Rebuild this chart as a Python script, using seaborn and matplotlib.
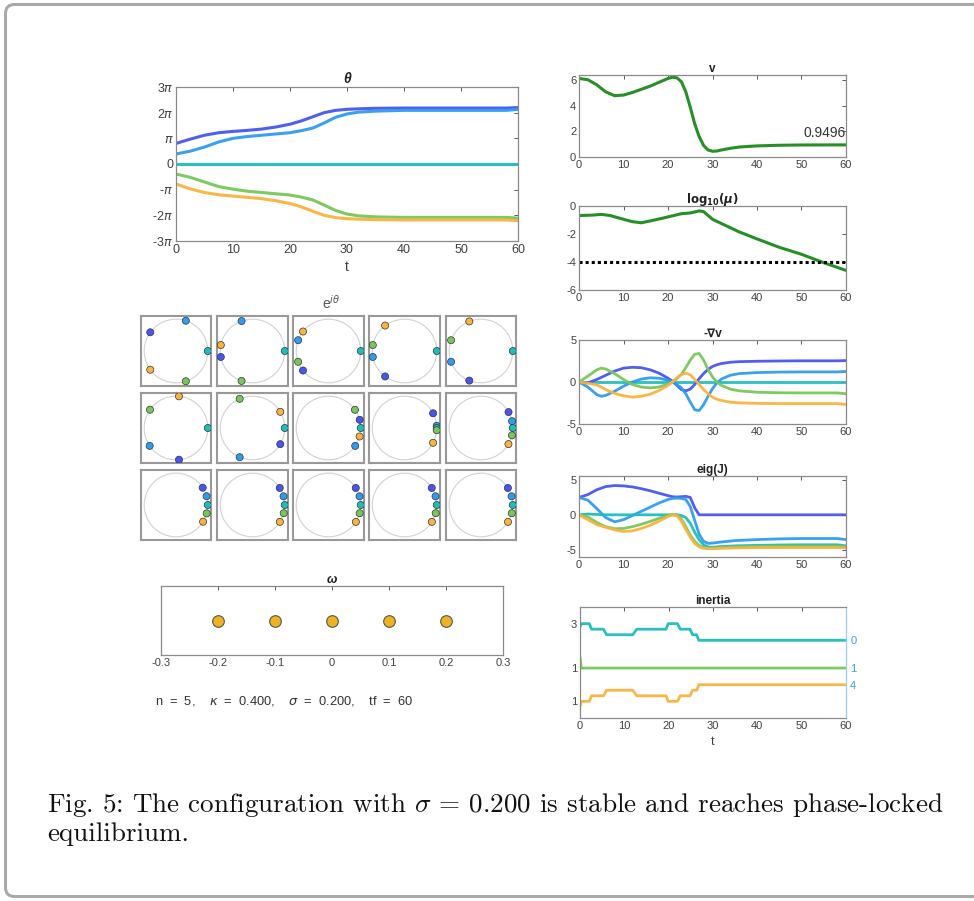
import numpy as np
import pandas as pd
import matplotlib
matplotlib.use("Agg")
import matplotlib.pyplot as plt
import seaborn as sns
from matplotlib.patches import Circle, FancyBboxPatch

sns.set_theme(style="white")
plt.rcParams["font.family"] = ["Liberation Sans", "DejaVu Sans"]
plt.rcParams["axes.unicode_minus"] = False

W, H = 974, 901
COLORS = ["#4755f2", "#2e9cf0", "#1cbdbd", "#76c85a", "#fbb23e"]

# ---- theta(t), in units of pi ----
t_theta = [0, 2.5, 5, 7.5, 10, 12.5, 15, 17.5, 20, 22, 24, 26, 28, 30, 32, 35, 40, 45, 50, 55, 58, 60]
theta_dark = [0.80, 0.97, 1.12, 1.22, 1.27, 1.31, 1.36, 1.44, 1.55, 1.68, 1.84, 2.0, 2.09, 2.13, 2.15, 2.17, 2.18, 2.18, 2.18, 2.18, 2.18, 2.2]
theta_light = [0.39, 0.5, 0.66, 0.86, 1.0, 1.07, 1.12, 1.17, 1.22, 1.3, 1.4, 1.6, 1.82, 1.95, 2.02, 2.06, 2.09, 2.09, 2.09, 2.09, 2.09, 2.13]
theta_teal = [0] * len(t_theta)
theta_green = [-0.39, -0.52, -0.7, -0.88, -0.98, -1.06, -1.11, -1.16, -1.21, -1.29, -1.4, -1.6, -1.81, -1.95, -2.02, -2.06, -2.08, -2.08, -2.08, -2.08, -2.08, -2.11]
theta_orange = [-0.78, -0.97, -1.11, -1.2, -1.25, -1.3, -1.35, -1.43, -1.54, -1.67, -1.84, -2.0, -2.09, -2.13, -2.15, -2.17, -2.18, -2.18, -2.18, -2.18, -2.18, -2.21]

# ---- snapshot phases (units of pi), one row per panel: dark, light, teal, green, orange ----
snap_phase = [
    [0.80, 0.40, 0, -0.40, -0.80],
    [1.06, 0.61, 0, -0.61, -1.06],
    [1.21, 0.89, 0, -0.89, -1.21],
    [1.295, 1.06, 0, -1.06, -1.295],
    [1.38, 1.11, 0, -1.11, -1.38],
    [1.53, 1.19, 0, -1.195, -1.53],
    [1.83, 1.37, 0, -1.37, -1.83],
    [2.083, 1.81, 0, -1.806, -2.086],
    [2.153, 2.022, 0, -2.022, -2.154],
    [2.167, 2.069, 0, -2.074, -2.169],
    [2.183, 2.089, 0, -2.085, -2.176],
    [2.18, 2.088, 0, -2.083, -2.178],
    [2.18, 2.088, 0, -2.083, -2.178],
    [2.18, 2.088, 0, -2.083, -2.178],
    [2.18, 2.088, 0, -2.083, -2.178],
]

# ---- omega ----
omega = [-0.2, -0.1, 0.0, 0.1, 0.2]

# ---- v ----
t_v = [0, 2, 4, 6, 8, 10, 12, 14, 16, 18, 20, 21, 22, 23, 24, 25, 26, 27, 28, 29, 30, 31, 32, 34, 36, 40, 45, 50, 55, 60]
v_vals = [6.15, 6.05, 5.65, 5.1, 4.8, 4.85, 5.05, 5.3, 5.55, 5.85, 6.15, 6.25, 6.2, 5.9, 5.1, 3.9, 2.6, 1.6, 0.9, 0.55,
          0.45, 0.47, 0.55, 0.68, 0.78, 0.87, 0.92, 0.94, 0.945, 0.95]
v_final = "0.9496"

# ---- log10(mu) ----
t_mu = [0, 3, 5, 7, 10, 12, 14, 17, 20, 23, 25, 27, 28, 30, 33, 36, 40, 45, 50, 55, 60]
mu_vals = [-0.68, -0.65, -0.6, -0.68, -0.95, -1.12, -1.2, -1.0, -0.78, -0.55, -0.5, -0.35, -0.4, -0.95, -1.4, -1.85,
           -2.35, -2.95, -3.45, -4.05, -4.6]
mu_tol = -4

# ---- -grad v ----
t_grad = [0, 2, 4, 5, 6, 8, 10, 12, 14, 16, 18, 20, 21, 22, 23, 24, 25, 26, 27, 28, 29, 30, 31, 32, 34, 36, 40, 45, 50, 55, 58, 60]
grad_dark = [0, -0.1, 0.3, 0.55, 0.8, 1.3, 1.65, 1.75, 1.7, 1.45, 1.05, 0.45, 0.1, -0.4, -0.9, -1.05, -0.85, -0.3, 0.4, 1.0,
             1.5, 1.85, 2.05, 2.2, 2.35, 2.42, 2.47, 2.5, 2.52, 2.52, 2.52, 2.55]
grad_light = [0, -0.6, -1.5, -1.7, -1.6, -1.1, -0.5, 0.0, 0.35, 0.5, 0.45, 0.2, 0.0, -0.3, -0.7, -1.4, -2.4, -3.3, -3.4, -2.7,
              -1.7, -0.8, -0.1, 0.35, 0.8, 1.0, 1.12, 1.18, 1.2, 1.2, 1.2, 1.25]
grad_teal = [0] * len(t_grad)
grad_green = [0, 0.7, 1.45, 1.65, 1.55, 1.0, 0.3, -0.3, -0.6, -0.7, -0.6, -0.25, 0.0, 0.4, 0.9, 1.7, 2.6, 3.3, 3.4, 2.6,
              1.5, 0.6, 0.0, -0.4, -0.85, -1.05, -1.22, -1.28, -1.3, -1.3, -1.3, -1.4]
grad_orange = [0, -0.15, -0.35, -0.6, -0.9, -1.35, -1.65, -1.8, -1.7, -1.45, -1.0, -0.4, 0.0, 0.5, 0.9, 1.05, 0.85, 0.3,
               -0.3, -0.9, -1.4, -1.8, -2.05, -2.2, -2.4, -2.48, -2.55, -2.57, -2.57, -2.57, -2.57, -2.67]

# ---- eig(J) ----
t_eig = [0, 2, 4, 6, 8, 10, 12, 14, 16, 18, 20, 21, 22, 23, 24, 25, 26, 27, 28, 29, 30, 32, 35, 40, 45, 50, 55, 58, 60]
eig_dark = [2.5, 2.9, 3.6, 4.05, 4.2, 4.15, 4.0, 3.75, 3.45, 3.1, 2.75, 2.6, 2.55, 2.6, 2.65, 2.5, 1.0, 0, 0, 0, 0, 0, 0,
            0, 0, 0, 0, 0, 0]
eig_light = [2.5, 2.1, 0.9, -0.4, -1.0, -0.7, -0.1, 0.5, 1.1, 1.7, 2.2, 2.35, 2.4, 2.35, 2.2, 1.2, -0.8, -2.8, -3.8, -4.1,
             -4.05, -3.9, -3.7, -3.55, -3.45, -3.4, -3.4, -3.4, -3.55]
eig_teal = [0, 0.12, 0.05, 0, 0, 0, 0, 0, 0, 0, 0, 0, 0, -0.1, -0.4, -1.2, -2.5, -3.6, -4.3, -4.6, -4.65, -4.55, -4.45,
            -4.38, -4.33, -4.3, -4.3, -4.3, -4.45]
eig_green = [0, -0.3, -1.1, -1.7, -2.0, -1.95, -1.7, -1.35, -0.95, -0.5, -0.1, 0.05, 0.0, -0.6, -1.7, -2.9, -3.8, -4.4,
             -4.7, -4.8, -4.8, -4.7, -4.6, -4.55, -4.5, -4.5, -4.5, -4.5, -4.62]
eig_orange = [0, -0.7, -1.4, -1.8, -2.15, -2.4, -2.3, -1.95, -1.5, -0.9, -0.25, 0.0, -0.15, -0.9, -2.1, -3.2, -4.1, -4.6,
              -4.8, -4.85, -4.85, -4.8, -4.75, -4.7, -4.7, -4.7, -4.7, -4.7, -4.75]

# ---- inertia (counts) ----
t_inertia = [0, 0.3, 2.1, 2.6, 5.3, 6.0, 11.9, 12.8, 19.4, 19.9, 22.0, 22.6, 24.8, 25.4, 26.3, 26.8, 60]
n_zero = [2.4, 3, 3, 2, 2, 1, 1, 2, 2, 3, 3, 2, 2, 1, 1, 0, 0]
n_neg = [3, 1, 1, 1, 1, 1, 1, 1, 1, 1, 1, 1, 1, 1, 1, 1, 1]
n_pos = [0, 1, 1, 2, 2, 3, 3, 2, 2, 1, 1, 2, 2, 3, 3, 4, 4]
inertia_offset = [14, 8, 2]


def box(l, t, r, b):
    return [l / W, 1 - b / H, (r - l) / W, (b - t) / H]


def style(ax, fs=8):
    ax.tick_params(direction="in", length=3, width=0.6, top=True, right=True, labelsize=fs,
                   colors="#404040", pad=2)
    for s in ax.spines.values():
        s.set_color("#8a8a8a")
        s.set_linewidth(0.9)
    ax.set_xlabel("")
    ax.set_ylabel("")


def draw_lines(ax, t, series, colors, lw=2.0):
    frames = [pd.DataFrame({"t": t, "y": ys, "k": i}) for i, ys in enumerate(series)]
    df = pd.concat(frames, ignore_index=True)
    pal = {i: c for i, c in enumerate(colors)}
    sns.lineplot(data=df, x="t", y="y", hue="k", palette=pal, legend=False, lw=lw,
                 ax=ax, errorbar=None, alpha=0.95)


fig = plt.figure(figsize=(W / 100, H / 100), dpi=100)

# frame and caption
fig.patches.append(FancyBboxPatch((0.055, 0.045), 10.2, 8.92, boxstyle="round,pad=0,rounding_size=0.09",
                                  transform=fig.dpi_scale_trans, fill=False, ec="#aaaaaa", lw=2.2))
fig.text(47 / W, 1 - 812 / H,
         r"Fig. 5: The configuration with $\sigma$ = 0.200 is stable and reaches phase-locked",
         family="cmr10", math_fontfamily="cm", fontsize=19.5, color="#111111")
fig.text(47 / W, 1 - 841 / H, "equilibrium.", family="cmr10", fontsize=19.5, color="#111111")

# theta
ax = fig.add_axes(box(176, 87, 518, 241))
draw_lines(ax, t_theta, [np.array(s) * np.pi for s in
                         [theta_dark, theta_light, theta_teal, theta_green, theta_orange]], COLORS, lw=2.2)
style(ax, 9)
ax.set_xlim(0, 60)
ax.set_ylim(-3 * np.pi, 3 * np.pi)
ax.set_xticks(range(0, 61, 10))
ax.set_yticks([k * np.pi for k in range(-3, 4)])
ax.set_yticklabels([r"-3$\pi$", r"-2$\pi$", r"-$\pi$", "0", r"$\pi$", r"2$\pi$", r"3$\pi$"])
ax.set_title("θ", fontsize=10, fontweight="bold", fontstyle="italic", pad=3, color="#222222")
ax.set_xlabel("t", fontsize=10, color="#404040", labelpad=3)

# e^{i theta} grid
fig.text(331 / W, 1 - 303 / H, r"e$^{i\theta}$", ha="center", va="center", fontsize=10, color="#555555")
cols = [(141, 211), (217, 288), (293, 364), (369, 440), (446, 516)]
rows = [(316, 386), (393, 463), (470, 540)]
for p, ph in enumerate(snap_phase):
    r, c = divmod(p, 5)
    ax = fig.add_axes(box(cols[c][0], rows[r][0], cols[c][1], rows[r][1]))
    ax.add_patch(Circle((0, 0), 1, fill=False, ec="#d2d2d2", lw=0.8))
    ang = np.array(ph) * np.pi
    pts = pd.DataFrame({"x": np.cos(ang), "y": np.sin(ang), "k": range(5)})
    sns.scatterplot(data=pts, x="x", y="y", hue="k", palette={i: col for i, col in enumerate(COLORS)},
                    s=26, edgecolor="#333333", linewidth=0.5, legend=False, ax=ax, zorder=3)
    ax.set_xlim(-1.1, 1.1)
    ax.set_ylim(-1.1, 1.1)
    ax.set_xticks([])
    ax.set_yticks([])
    ax.set_xlabel("")
    ax.set_ylabel("")
    for s in ax.spines.values():
        s.set_color("#999999")
        s.set_linewidth(1.5)

# omega
ax = fig.add_axes(box(161, 586, 503, 655))
sns.scatterplot(x=omega, y=[0] * len(omega), color="#eeb320", s=70, edgecolor="#555555", linewidth=0.8, ax=ax)
style(ax, 8)
ax.tick_params(left=False, right=False)
ax.set_xlim(-0.3, 0.3)
ax.set_ylim(-1, 1)
ax.set_yticks([])
ax.set_xticks([-0.3, -0.2, -0.1, 0, 0.1, 0.2, 0.3])
ax.set_xticklabels(["-0.3", "-0.2", "-0.1", "0", "0.1", "0.2", "0.3"])
ax.set_title("ω", fontsize=9, fontweight="bold", fontstyle="italic", pad=2, color="#222222")
fig.text(155 / W, 1 - 705 / H,
         r"n  =  5,    $\kappa$  =  0.400,    $\sigma$  =  0.200,    tf  =  60", fontsize=9.3, color="#333333")

# v
ax = fig.add_axes(box(579, 75, 846, 157))
draw_lines(ax, t_v, [v_vals], ["#1a8a1a"], lw=2.2)
style(ax, 8)
ax.set_xlim(0, 60)
ax.set_ylim(0, 6.42)
ax.set_xticks(range(0, 61, 10))
ax.set_yticks([0, 2, 4, 6])
ax.text(60, 1.3, v_final, ha="right", va="bottom", fontsize=10, color="#333333")
ax.set_title("v", fontsize=8.5, fontweight="bold", pad=2, color="#222222")

# log10 mu
ax = fig.add_axes(box(579, 206, 846, 290))
draw_lines(ax, t_mu, [mu_vals], ["#1a8a1a"], lw=2.2)
ax.axhline(mu_tol, color="black", ls=(0, (1, 1)), lw=2.2)
style(ax, 8)
ax.set_xlim(0, 60)
ax.set_ylim(-6, 0)
ax.set_xticks(range(0, 61, 10))
ax.set_yticks([0, -2, -4, -6])
ax.set_title(r"$\mathbf{log}_{\mathbf{10}}\mathbf{(}\boldsymbol{\mu}\mathbf{)}$", fontsize=8.5, pad=2, color="#222222")

# -grad v
ax = fig.add_axes(box(579, 340, 846, 424))
draw_lines(ax, t_grad, [grad_teal, grad_dark, grad_light, grad_green, grad_orange],
           [COLORS[2], COLORS[0], COLORS[1], COLORS[3], COLORS[4]], lw=2.0)
style(ax, 8)
ax.set_xlim(0, 60)
ax.set_ylim(-5, 5)
ax.set_xticks(range(0, 61, 10))
ax.set_yticks([-5, 0, 5])
ax.set_title("-∇v", fontsize=8.5, fontweight="bold", pad=2, color="#222222")

# eig(J)
ax = fig.add_axes(box(579, 476, 846, 557))
draw_lines(ax, t_eig, [eig_dark, eig_light, eig_teal, eig_green, eig_orange], COLORS, lw=2.0)
style(ax, 8)
ax.set_xlim(0, 60)
ax.set_ylim(-6.05, 5.57)
ax.set_xticks(range(0, 61, 10))
ax.set_yticks([-5, 0, 5])
ax.set_title("eig(J)", fontsize=8.5, fontweight="bold", pad=2, color="#222222")

# inertia
ax = fig.add_axes(box(580, 607, 846, 718))
series = [np.array(n) + off for n, off in zip([n_zero, n_neg, n_pos], inertia_offset)]
draw_lines(ax, t_inertia, series, [COLORS[2], COLORS[3], COLORS[4]], lw=2.0)
style(ax, 8)
ax.tick_params(right=False)
ax.spines["right"].set_color("#9ecbf0")
ax.set_xlim(0, 60)
ax.set_ylim(0, 20)
ax.set_xticks(range(0, 61, 10))
ax.set_yticks([n_zero[1] + inertia_offset[0], n_neg[-1] + inertia_offset[1], n_pos[1] + inertia_offset[2]])
ax.set_yticklabels([str(n_zero[1]), str(n_neg[-1]), str(n_pos[1])])
ax2 = ax.twinx()
ax2.set_ylim(0, 20)
ax2.set_yticks([n_zero[-1] + inertia_offset[0], n_neg[-1] + inertia_offset[1], n_pos[-1] + inertia_offset[2]])
ax2.set_yticklabels([str(n_zero[-1]), str(n_neg[-1]), str(n_pos[-1])])
ax2.tick_params(direction="in", length=0, labelsize=8, colors="#3a9ee6", pad=3)
for s in ax2.spines.values():
    s.set_visible(False)
ax.set_title("inertia", fontsize=8.5, fontweight="bold", pad=2, color="#222222")
ax.set_xlabel("t", fontsize=9, color="#404040", labelpad=4)

fig.savefig("out.png", dpi=100)
